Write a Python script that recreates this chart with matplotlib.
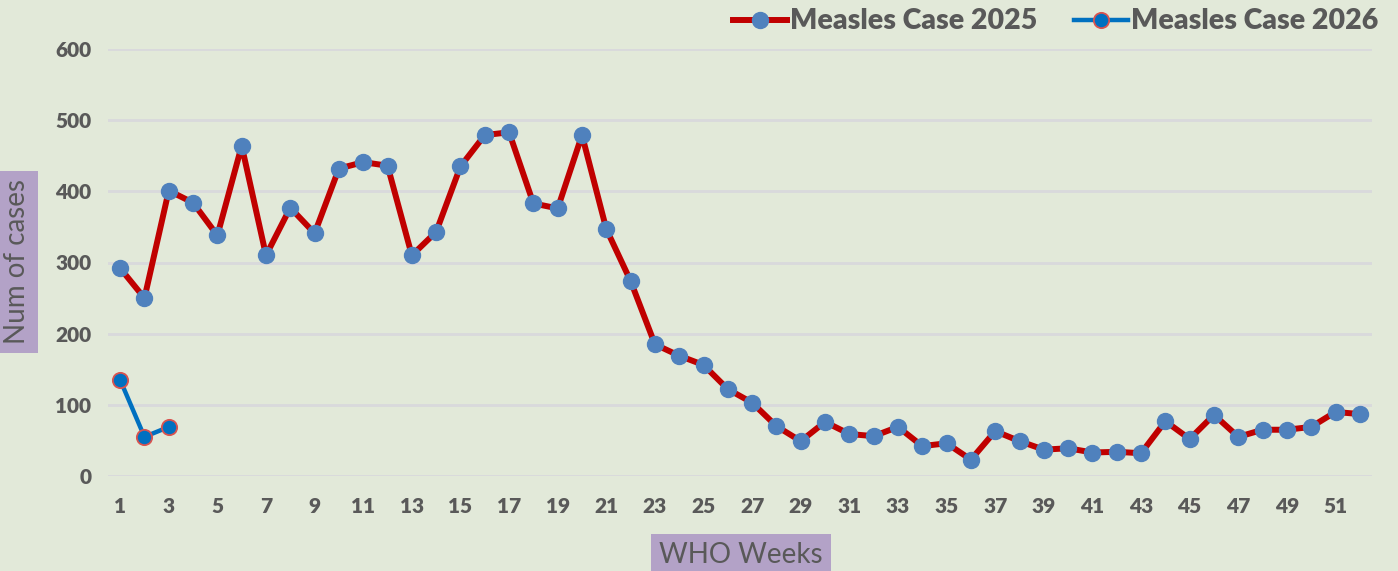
import numpy as np
import matplotlib.pyplot as plt
from matplotlib.lines import Line2D

# WHO weeks and weekly measles cases
weeks_2025 = list(range(1, 53))
cases_2025 = [292, 250, 401, 384, 338, 464, 310, 377, 341, 432,
              441, 436, 310, 343, 435, 479, 483, 383, 376, 479,
              347, 274, 185, 169, 156, 122, 103, 70, 49, 76,
              59, 56, 69, 42, 46, 23, 63, 49, 37, 39,
              33, 34, 32, 77, 52, 86, 55, 65, 65, 69,
              90, 87]
weeks_2026 = [1, 2, 3]
cases_2026 = [135, 55, 69]

x_ticks = list(range(1, 53, 2))
y_ticks = [0, 100, 200, 300, 400, 500, 600]

bg = '#E2E9D9'
text_col = '#595959'
plt.rcParams['font.family'] = ['Lato', 'DejaVu Sans']

fig = plt.figure(figsize=(13.98, 5.71), dpi=100, facecolor=bg)
ax = fig.add_axes([108/1398, 95/571, 1264/1398, 427/571], facecolor=bg)

ax.plot(weeks_2025, cases_2025, color='#C00000', lw=4.3, marker='o',
        ms=11.5, mfc='#4F81BD', mec='#4F81BD', zorder=3)
ax.plot(weeks_2026, cases_2026, color='#0070C0', lw=3.2, marker='o',
        ms=11, mfc='#0070C0', mec='#D9534F', mew=1.3, zorder=3)

ax.set_xlim(0.5, 52.5)
ax.set_ylim(0, 600)
ax.set_xticks(x_ticks)
ax.set_yticks(y_ticks)
ax.tick_params(length=0, labelsize=15, labelcolor=text_col, pad=12)
ax.tick_params(axis='x', pad=15)
for lab in ax.get_xticklabels() + ax.get_yticklabels():
    lab.set_fontweight('heavy')
ax.grid(axis='y', color='#D9D9DC', lw=2)
ax.set_axisbelow(True)
for s in ax.spines.values():
    s.set_visible(False)

# axis titles in purple boxes
fig.text(17/1398, 1 - 262/571, 'Num of cases', rotation=90, ha='center',
         va='center', fontsize=20, color=text_col,
         bbox=dict(boxstyle='square,pad=0.3', fc='#B3A2C7', ec='none'))
fig.text(741/1398, 1 - 555/571, 'WHO Weeks', ha='center', va='center',
         fontsize=20, color=text_col,
         bbox=dict(boxstyle='square,pad=0.3', fc='#B3A2C7', ec='none'))

handles = [
    Line2D([], [], color='#C00000', lw=4.3, marker='o', ms=11.5,
           mfc='#4F81BD', mec='#4F81BD'),
    Line2D([], [], color='#0070C0', lw=3.2, marker='o', ms=11,
           mfc='#0070C0', mec='#D9534F', mew=1.3),
]
leg = fig.legend(handles, ['Measles Case 2025', 'Measles Case 2026'],
                 loc='upper right', bbox_to_anchor=(1.004, 1.03),
                 ncol=2, frameon=False, handlelength=1.9, handletextpad=0.1,
                 columnspacing=1.3, prop={'weight': 'heavy', 'size': 20.5})
for t in leg.get_texts():
    t.set_color(text_col)

fig.savefig('out.png', dpi=100, facecolor=bg)
